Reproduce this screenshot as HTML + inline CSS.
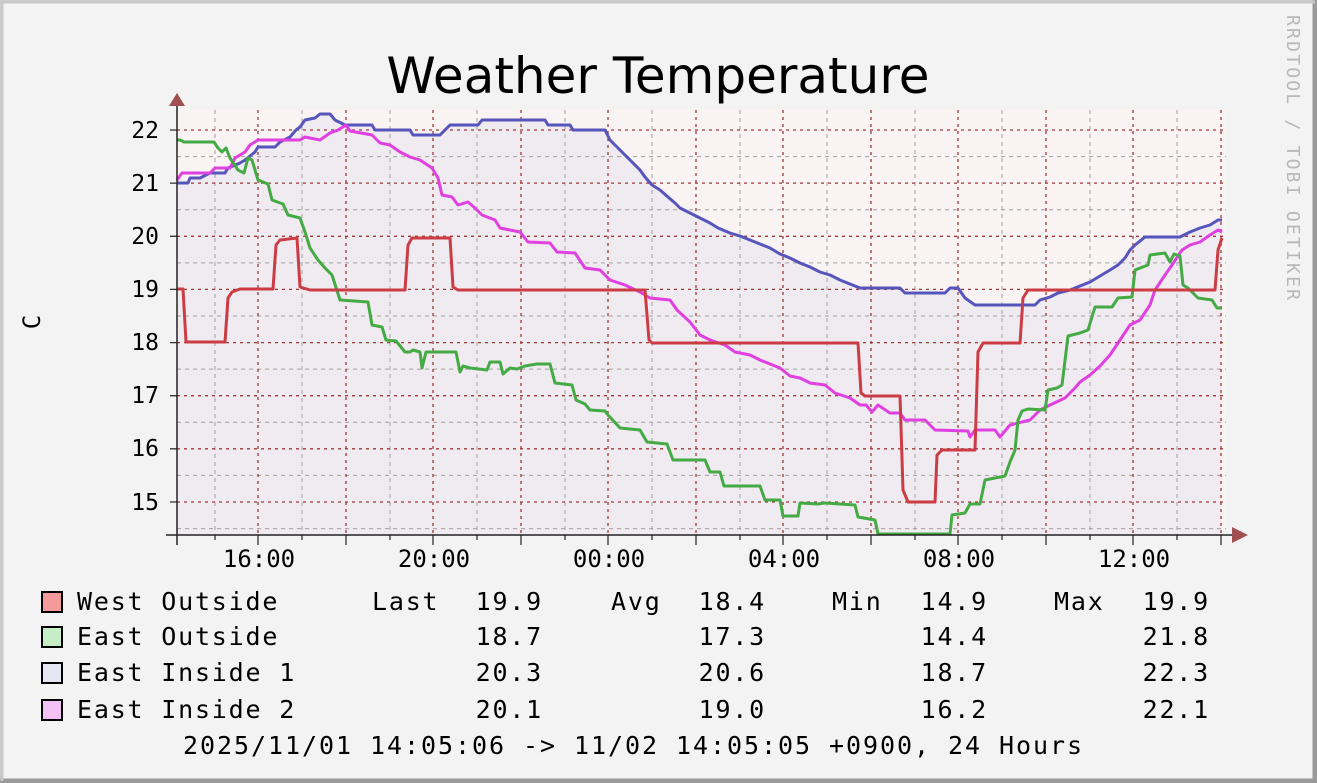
<!DOCTYPE html>
<html><head><meta charset="utf-8"><style>
html,body{margin:0;padding:0;background:#f3f3f3}
svg{display:block}
text{font-family:"DejaVu Sans Mono","Liberation Mono",monospace}
</style></head><body>
<svg width="1317" height="783" viewBox="0 0 1317 783" xmlns="http://www.w3.org/2000/svg">
<rect x="0" y="0" width="1317" height="783" fill="#f3f3f3"/>
<path d="M0 0H1317V783H0Z" fill="none" stroke="#cfcfcf" stroke-width="4"/>
<path d="M1315 0V781H0" fill="none" stroke="#9a9a9a" stroke-width="5"/>
<path d="M2 781V2H1315" fill="none" stroke="#c8c8c8" stroke-width="3"/>
<text x="658" y="93" font-size="50" text-anchor="middle" style="font-family:'DejaVu Sans','Liberation Sans',sans-serif">Weather Temperature</text>
<text transform="translate(1287,15) rotate(90)" font-size="18" fill="#b8b8b8" textLength="285">RRDTOOL / TOBI OETIKER</text>
<text transform="translate(40,322) rotate(-90)" font-size="24" text-anchor="middle">C</text>
<rect x="177" y="110" width="1049" height="425" fill="#f9f3f3"/>
<polygon fill="#f0eaf1" points="177,535 177,183 188,183 190,178 200,178 210,173 225,173 228,168 240,163 245,160 255,152 258,147 275,147 280,142 290,137 296,130 300,127 305,120 315,118 320,114 330,114 335,120 345,125 372,125 375,130 410,130 413,135 440,135 445,130 450,125 478,125 482,120 545,120 548,125 570,125 573,130 605,130 610,140 620,150 625,155 630,160 640,170 645,177 652,185 660,190 668,197 675,203 680,208 690,213 700,218 710,223 718,228 730,233 740,236 750,240 760,244 770,248 780,254 790,258 800,263 810,267 820,272 830,275 840,280 850,284 860,288 900,288 905,293 945,293 950,288 958,288 965,298 975,305 1035,305 1040,300 1050,297 1058,293 1070,290 1080,286 1090,282 1100,276 1110,270 1118,265 1125,258 1130,250 1135,245 1145,237 1180,237 1190,232 1200,228 1210,225 1218,220 1222,220 1222,535"/>
<g stroke="#a0a0a0" stroke-width="1" stroke-dasharray="4,4">
<path d="M215 110V535M302 110V535M390 110V535M477 110V535M565 110V535M652 110V535M740 110V535M827 110V535M915 110V535M1002 110V535M1090 110V535M1177 110V535"/>
<path d="M177 156.6H1226M177 209.7H1226M177 262.9H1226M177 316H1226M177 369.1H1226M177 422.3H1226M177 475.4H1226M177 528.6H1226"/>
</g>
<g stroke="#a03838" stroke-width="1.3" stroke-dasharray="3,4">
<path d="M258 110V535M346 110V535M433 110V535M521 110V535M608 110V535M696 110V535M783 110V535M871 110V535M958 110V535M1046 110V535M1133 110V535M1221 110V535"/>
<path d="M177 130H1226M177 183.1H1226M177 236.3H1226M177 289.4H1226M177 342.6H1226M177 395.7H1226M177 448.8H1226M177 502H1226"/>
</g>
<g stroke="#333" stroke-width="1.3">
<path d="M215 535v5M302 535v5M390 535v5M477 535v5M565 535v5M652 535v5M740 535v5M827 535v5M915 535v5M1002 535v5M1090 535v5M1177 535v5"/>
<path d="M258 535v10M346 535v10M433 535v10M521 535v10M608 535v10M696 535v10M783 535v10M871 535v10M958 535v10M1046 535v10M1133 535v10M1221 535v10"/>
<path d="M170 130h7M170 183.1h7M170 236.3h7M170 289.4h7M170 342.6h7M170 395.7h7M170 448.8h7M170 502h7"/>
</g>
<g fill="none" stroke-width="3" stroke-linejoin="round">
<polyline stroke="#5555bb" points="177,183 188,183 190,178 200,178 210,173 225,173 228,168 240,163 245,160 255,152 258,147 275,147 280,142 290,137 296,130 300,127 305,120 315,118 320,114 330,114 335,120 345,125 372,125 375,130 410,130 413,135 440,135 445,130 450,125 478,125 482,120 545,120 548,125 570,125 573,130 605,130 610,140 620,150 625,155 630,160 640,170 645,177 652,185 660,190 668,197 675,203 680,208 690,213 700,218 710,223 718,228 730,233 740,236 750,240 760,244 770,248 780,254 790,258 800,263 810,267 820,272 830,275 840,280 850,284 860,288 900,288 905,293 945,293 950,288 958,288 965,298 975,305 1035,305 1040,300 1050,297 1058,293 1070,290 1080,286 1090,282 1100,276 1110,270 1118,265 1125,258 1130,250 1135,245 1145,237 1180,237 1190,232 1200,228 1210,225 1218,220 1222,220"/>
<polyline stroke="#e040e0" points="177,180 182,173 210,173 215,168 230,168 235,158 245,152 250,145 258,140 300,140 305,137 320,140 330,133 338,130 346,125 350,131 372,135 380,143 390,145 400,152 410,157 420,160 432,168 438,178 442,195 452,197 458,205 468,202 475,208 482,215 495,220 500,228 520,232 528,242 550,243 557,252 575,253 585,268 600,270 610,280 625,285 640,292 650,298 670,300 677,310 690,322 700,335 710,340 725,345 735,352 750,355 760,360 780,368 790,376 800,378 810,383 825,385 835,393 850,398 860,405 866,405 872,412 878,405 890,413 900,413 905,420 925,420 935,430 968,431 970,437 975,430 995,430 1000,437 1010,425 1030,420 1040,410 1050,405 1065,398 1075,388 1080,382 1090,375 1100,366 1110,355 1120,340 1130,325 1140,320 1150,305 1155,290 1165,275 1172,265 1182,250 1190,245 1200,242 1210,235 1218,230 1222,232"/>
<polyline stroke="#44aa44" points="177,140 180,140 184,142 214,142 218,148 222,152 226,148 230,158 238,170 244,173 248,158 252,160 258,180 268,184 272,200 283,204 288,215 300,218 305,232 310,248 318,260 325,268 332,275 340,300 368,302 372,325 382,327 386,340 396,341 405,352 410,352 413,350 420,352 422,368 426,352 456,352 460,372 463,366 470,368 487,370 490,362 500,362 503,374 510,368 517,369 525,366 537,364 550,364 555,383 572,385 576,400 585,404 590,410 605,411 608,415 620,428 640,430 647,442 667,444 673,460 705,460 710,472 720,472 724,486 760,486 765,500 780,500 783,516 798,516 800,503 818,504 825,503 855,505 858,517 875,520 878,534 950,534 952,515 965,513 970,504 980,504 985,480 995,478 1005,476 1010,462 1015,450 1018,420 1022,411 1028,409 1045,410 1048,390 1057,388 1062,385 1068,336 1080,333 1088,330 1095,307 1112,307 1118,298 1132,297 1135,270 1148,265 1150,255 1165,253 1170,262 1174,254 1180,256 1183,285 1188,288 1198,298 1212,300 1217,308 1222,308"/>
<polyline stroke="#cc3c44" points="177,289 183,289 186,342 225,342 228,298 232,292 240,289 273,289 276,245 280,240 297,238 300,287 310,290 405,290 408,245 412,238 450,238 453,287 458,290 645,290 649,340 652,343 858,343 861,393 865,396 900,396 903,490 908,502 935,502 937,455 942,450 975,450 978,352 983,343 1020,343 1023,298 1028,290 1215,290 1218,250 1222,238"/>
</g>
<path d="M177 104V545M166 535H1234" stroke="#222" stroke-width="1.5"/>
<polygon points="169,106 185,106 177,93" fill="#a05050"/>
<polygon points="1232,527 1232,543 1248,535" fill="#a05050"/>
<g font-size="23" text-anchor="end">
<text x="159" y="138">22</text><text x="159" y="191">21</text><text x="159" y="244">20</text><text x="159" y="297">19</text><text x="159" y="350">18</text><text x="159" y="403">17</text><text x="159" y="456">16</text><text x="159" y="510">15</text>
</g>
<g font-size="24" text-anchor="middle">
<text x="259" y="567">16:00</text><text x="434" y="567">20:00</text><text x="609" y="567">00:00</text><text x="784" y="567">04:00</text><text x="959" y="567">08:00</text><text x="1134" y="567">12:00</text>
</g>
<g stroke="#000" stroke-width="2">
<rect x="42" y="592" width="20" height="20" fill="#f49a9a"/>
<rect x="42" y="627" width="20" height="20" fill="#c6eec6"/>
<rect x="42" y="663" width="20" height="20" fill="#e6e6f4"/>
<rect x="42" y="700" width="20" height="20" fill="#f5c0f5"/>
</g>
<g font-size="25" letter-spacing="1.8">
<text x="77" y="610">West Outside</text><text x="77" y="645">East Outside</text><text x="77" y="681">East Inside 1</text><text x="77" y="718">East Inside 2</text>
<text x="372" y="610">Last</text><text x="611" y="610">Avg</text><text x="832" y="610">Min</text><text x="1054" y="610">Max</text>
</g>
<g font-size="25" letter-spacing="1.8" text-anchor="end">
<text x="543" y="610">19.9</text><text x="766" y="610">18.4</text><text x="988" y="610">14.9</text><text x="1210" y="610">19.9</text>
<text x="543" y="645">18.7</text><text x="766" y="645">17.3</text><text x="988" y="645">14.4</text><text x="1210" y="645">21.8</text>
<text x="543" y="681">20.3</text><text x="766" y="681">20.6</text><text x="988" y="681">18.7</text><text x="1210" y="681">22.3</text>
<text x="543" y="718">20.1</text><text x="766" y="718">19.0</text><text x="988" y="718">16.2</text><text x="1210" y="718">22.1</text>
</g>
<text x="183" y="754" font-size="25" textLength="899">2025/11/01 14:05:06 -&gt; 11/02 14:05:05 +0900, 24 Hours</text>
</svg>
</body></html>
